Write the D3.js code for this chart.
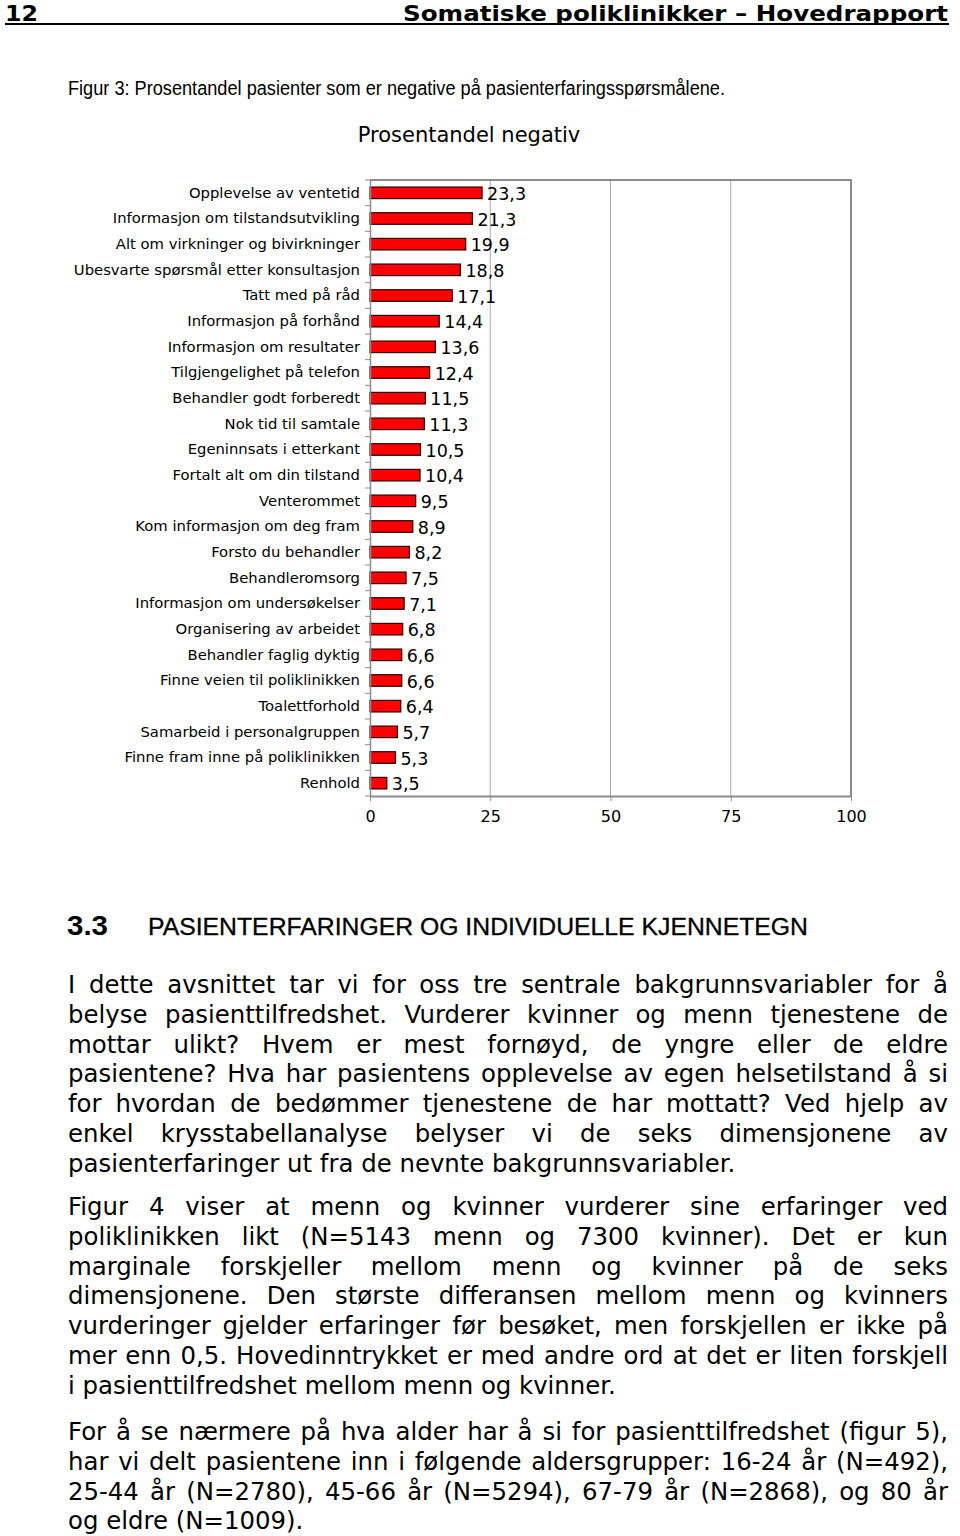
<!DOCTYPE html>
<html>
<head>
<meta charset="utf-8">
<script src="https://cdn.jsdelivr.net/npm/d3@7"></script>
<style>
  html, body { margin: 0; padding: 0; background: #fff; }
  svg { display: block; }
</style>
</head>
<body>
<svg id="page" width="960" height="1536"></svg>
<script>
// ---------- data ----------
const categories = [
  "Opplevelse av ventetid",
  "Informasjon om tilstandsutvikling",
  "Alt om virkninger og bivirkninger",
  "Ubesvarte spørsmål etter konsultasjon",
  "Tatt med på råd",
  "Informasjon på forhånd",
  "Informasjon om resultater",
  "Tilgjengelighet på telefon",
  "Behandler godt forberedt",
  "Nok tid til samtale",
  "Egeninnsats i etterkant",
  "Fortalt alt om din tilstand",
  "Venterommet",
  "Kom informasjon om deg fram",
  "Forsto du behandler",
  "Behandleromsorg",
  "Informasjon om undersøkelser",
  "Organisering av arbeidet",
  "Behandler faglig dyktig",
  "Finne veien til poliklinikken",
  "Toalettforhold",
  "Samarbeid i personalgruppen",
  "Finne fram inne på poliklinikken",
  "Renhold"
];
const values = [23.3, 21.3, 19.9, 18.8, 17.1, 14.4, 13.6, 12.4, 11.5, 11.3, 10.5, 10.4,
                9.5, 8.9, 8.2, 7.5, 7.1, 6.8, 6.6, 6.6, 6.4, 5.7, 5.3, 3.5];
const xTicks = [0, 25, 50, 75, 100];
const chartTitle = "Prosentandel negativ";
const pageNumber = "12";
const runningHead = "Somatiske poliklinikker – Hovedrapport";
const figureCaption = "Figur 3: Prosentandel pasienter som er negative på pasienterfaringsspørsmålene.";
const sectionNumber = "3.3";
const sectionTitle = "PASIENTERFARINGER OG INDIVIDUELLE KJENNETEGN";
const paragraphs = [
  [
    "I dette avsnittet tar vi for oss tre sentrale bakgrunnsvariabler for å",
    "belyse pasienttilfredshet. Vurderer kvinner og menn tjenestene de",
    "mottar ulikt? Hvem er mest fornøyd, de yngre eller de eldre",
    "pasientene? Hva har pasientens opplevelse av egen helsetilstand å si",
    "for hvordan de bedømmer tjenestene de har mottatt? Ved hjelp av",
    "enkel krysstabellanalyse belyser vi de seks dimensjonene av",
    "pasienterfaringer ut fra de nevnte bakgrunnsvariabler."
  ],
  [
    "Figur 4 viser at menn og kvinner vurderer sine erfaringer ved",
    "poliklinikken likt (N=5143 menn og 7300 kvinner). Det er kun",
    "marginale forskjeller mellom menn og kvinner på de seks",
    "dimensjonene. Den største differansen mellom menn og kvinners",
    "vurderinger gjelder erfaringer før besøket, men forskjellen er ikke på",
    "mer enn 0,5. Hovedinntrykket er med andre ord at det er liten forskjell",
    "i pasienttilfredshet mellom menn og kvinner."
  ],
  [
    "For å se nærmere på hva alder har å si for pasienttilfredshet (figur 5),",
    "har vi delt pasientene inn i følgende aldersgrupper: 16-24 år (N=492),",
    "25-44 år (N=2780), 45-66 år (N=5294), 67-79 år (N=2868), og 80 år",
    "og eldre (N=1009)."
  ]
];

// ---------- page ----------
const svg = d3.select("#page");
svg.append("rect").attr("width", 960).attr("height", 1536).attr("fill", "#fff");

// running head
svg.append("text").attr("x", 5).attr("y", 21)
  .attr("font-family", "DejaVu Sans, sans-serif").attr("font-weight", "bold")
  .attr("font-size", 22).attr("textLength", 33).attr("lengthAdjust", "spacingAndGlyphs")
  .text(pageNumber);
svg.append("text").attr("x", 948).attr("y", 21).attr("text-anchor", "end")
  .attr("font-family", "DejaVu Sans, sans-serif").attr("font-weight", "bold")
  .attr("font-size", 22).attr("textLength", 545).attr("lengthAdjust", "spacingAndGlyphs")
  .text(runningHead);
svg.append("rect").attr("x", 5).attr("y", 23).attr("width", 944).attr("height", 2).attr("fill", "#000");

// caption
svg.append("text").attr("x", 68).attr("y", 95)
  .attr("font-family", "Liberation Sans, Arial, sans-serif")
  .attr("font-size", 20).attr("textLength", 657).attr("lengthAdjust", "spacingAndGlyphs")
  .text(figureCaption);

// ---------- chart ----------
const x = d3.scaleLinear().domain([0, 100]).range([370, 851]);
const y = d3.scaleBand().domain(categories).range([180, 796]).paddingInner(0.55).paddingOuter(0.275);
const chartFont = "DejaVu Sans, Verdana, sans-serif";

const g = svg.append("g");

// title
g.append("text").attr("x", 469).attr("y", 142).attr("text-anchor", "middle")
  .attr("font-family", chartFont).attr("font-size", 21).text(chartTitle);

// gridlines
g.append("g").selectAll("line").data(xTicks.filter(d => d > 0 && d < 100)).join("line")
  .attr("x1", d => x(d)).attr("x2", d => x(d))
  .attr("y1", 180).attr("y2", 796)
  .attr("stroke", "#a8a8a8").attr("stroke-width", 1);

// plot border (top and right)
g.append("path")
  .attr("d", `M${x(0)},${y.range()[0]}H${x(100)}V${y.range()[1]}`)
  .attr("fill", "none").attr("stroke", "#8c8c8c").attr("stroke-width", 2);

// bars
g.append("g").selectAll("rect").data(categories).join("rect")
  .attr("x", x(0))
  .attr("y", d => y(d))
  .attr("width", (d, i) => x(values[i]) - x(0))
  .attr("height", y.bandwidth())
  .attr("fill", "#ff0000")
  .attr("stroke", "#2a0000").attr("stroke-width", 1.2);

// value labels
g.append("g").selectAll("text").data(categories).join("text")
  .attr("x", (d, i) => x(values[i]) + 5)
  .attr("y", d => y(d) + y.bandwidth() / 2 + 1)
  .attr("dominant-baseline", "central")
  .attr("font-family", chartFont).attr("font-size", 17.5)
  .text((d, i) => values[i].toFixed(1).replace(".", ","));

// y axis
const yAxis = g.append("g").attr("transform", `translate(${x(0)},0)`)
  .call(d3.axisLeft(y).tickSize(0).tickPadding(10));
yAxis.select(".domain").attr("stroke", "#8c8c8c").attr("stroke-width", 1.5);
yAxis.selectAll("text").attr("font-family", chartFont).attr("font-size", 14.8).attr("fill", "#000");
// y tick marks at category boundaries
const boundaries = d3.range(categories.length + 1).map(i => y.range()[0] + i * y.step());
g.append("g").selectAll("line").data(boundaries).join("line")
  .attr("x1", x(0) - 5).attr("x2", x(0))
  .attr("y1", d => d).attr("y2", d => d)
  .attr("stroke", "#8c8c8c").attr("stroke-width", 1);

// x axis
const xAxis = g.append("g").attr("transform", `translate(0,${y.range()[1]})`)
  .call(d3.axisBottom(x).tickValues(xTicks).tickSize(5).tickPadding(10).tickSizeOuter(0));
xAxis.select(".domain").attr("stroke", "#8c8c8c").attr("stroke-width", 2);
xAxis.selectAll(".tick line").attr("stroke", "#8c8c8c");
xAxis.selectAll("text").attr("font-family", chartFont).attr("font-size", 16).attr("fill", "#000");

// ---------- section heading ----------
svg.append("text").attr("x", 67).attr("y", 935)
  .attr("font-family", "Liberation Sans, Arial, sans-serif").attr("font-weight", "bold")
  .attr("font-size", 28).attr("textLength", 41).attr("lengthAdjust", "spacingAndGlyphs")
  .text(sectionNumber);
svg.append("text").attr("x", 148).attr("y", 935)
  .attr("font-family", "Liberation Sans, Arial, sans-serif")
  .attr("font-size", 23).attr("textLength", 660).attr("lengthAdjust", "spacingAndGlyphs")
  .attr("stroke", "#000").attr("stroke-width", 0.3)
  .text(sectionTitle);

// ---------- body text (justified) ----------
const bodyFont = "DejaVu Sans, Verdana, sans-serif";
const bodySize = 24.4;
const left = 68, right = 948;
const paraStarts = [993, 1215, 1440];
const lineGap = 29.8;

paragraphs.forEach((lines, pi) => {
  lines.forEach((line, li) => {
    const yy = paraStarts[pi] + li * lineGap;
    const isLast = li === lines.length - 1;
    const t = svg.append("text").attr("y", yy)
      .attr("font-family", bodyFont).attr("font-size", bodySize).attr("fill", "#000");
    const words = line.split(" ");
    const spans = words.map(w => t.append("tspan").text(w));
    const widths = spans.map(s => s.node().getComputedTextLength());
    const total = d3.sum(widths);
    const spaceNat = bodySize * 0.318;
    let gap = isLast || words.length < 2 ? spaceNat : (right - left - total) / (words.length - 1);
    if (gap < spaceNat * 0.5) gap = spaceNat * 0.5;
    let cx = left;
    spans.forEach((s, i) => { s.attr("x", cx); cx += widths[i] + gap; });
  });
});
</script>
</body>
</html>
